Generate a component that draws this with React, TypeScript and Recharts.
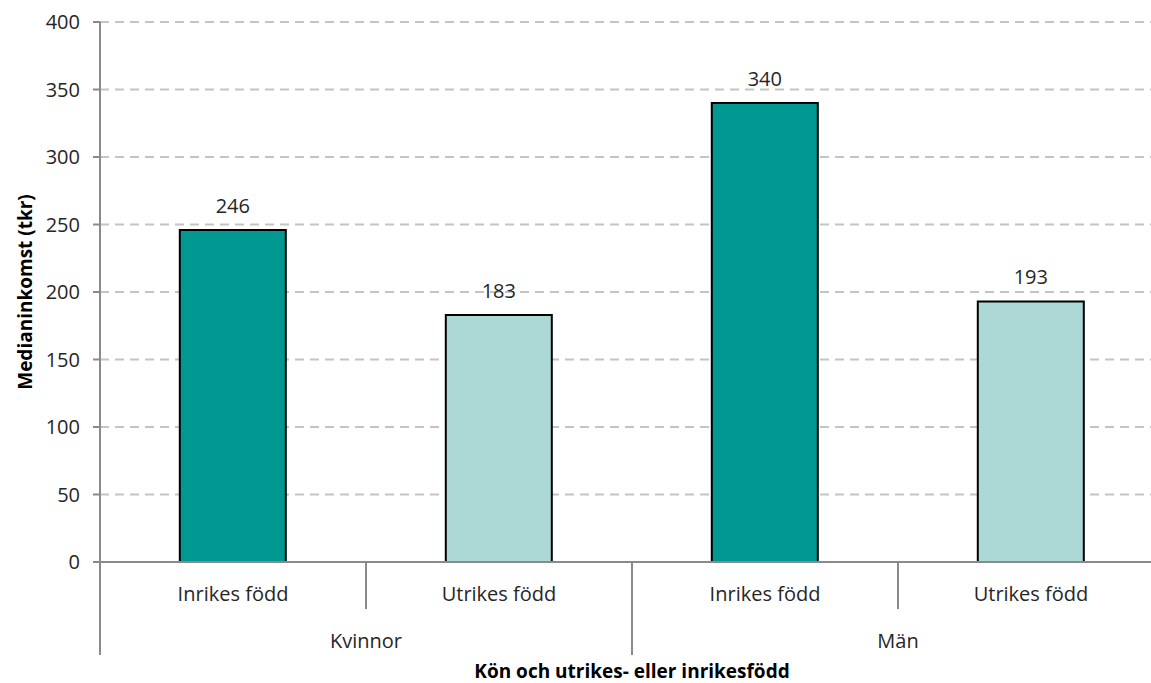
import { BarChart, Bar, XAxis, YAxis, CartesianGrid, Cell, LabelList } from "recharts";

// Kön / född – medianinkomst (tkr)
const categories = ["Inrikes född", "Utrikes född", "Inrikes född", "Utrikes född"];
const groups = ["Kvinnor", "Kvinnor", "Män", "Män"];
const values = [246, 183, 340, 193];
const yTicks = [0, 50, 100, 150, 200, 250, 300, 350, 400];

const FILLS: Record<string, string> = {
  "Inrikes född": "#009890",
  "Utrikes född": "#acd9d5",
};

const data = categories.map((c, i) => ({
  id: `${groups[i]}-${c}`,
  category: c,
  group: groups[i],
  value: values[i],
}));

const CHART_W = 1170;
const CHART_H = 683;
const MARGIN = { top: 22, right: 6, left: 0, bottom: 0 };
const Y_W = 100;
const X_H = 121;
const BAND = (CHART_W - MARGIN.left - MARGIN.right - Y_W) / data.length;

const TEXT = "#262626";
const AXIS = "#8a8a8a";
const FONT = "'Open Sans', sans-serif";

function CategoryTick(props: any) {
  const { x, y, payload } = props;
  const i: number = payload.index;
  const row = data[i];
  const half = BAND / 2;
  const first = i === 0 || data[i - 1].group !== row.group;
  const last = i === data.length - 1 || data[i + 1].group !== row.group;
  const size = data.filter((d) => d.group === row.group).length;
  return (
    <g>
      <text x={x} y={y + 39} textAnchor="middle" fill={TEXT} fontSize={20} fontFamily={FONT}>
        {row.category}
      </text>
      {i === 0 && <line x1={x - half} x2={x - half} y1={y} y2={y + 93} stroke={AXIS} strokeWidth={2} />}
      <line x1={x + half} x2={x + half} y1={y} y2={last ? y + 93 : y + 47} stroke={AXIS} strokeWidth={2} />
      {first && (
        <text x={x + ((size - 1) * BAND) / 2} y={y + 86} textAnchor="middle" fill={TEXT} fontSize={20} fontFamily={FONT}>
          {row.group}
        </text>
      )}
    </g>
  );
}

export default function App() {
  return (
    <div style={{ position: "absolute", left: 0, top: 0, width: 1151, height: 683, overflow: "hidden", background: "#fff" }}>
      <BarChart width={CHART_W} height={CHART_H} data={data} margin={MARGIN} barCategoryGap="30%" style={{ fontFamily: FONT }}>
        <CartesianGrid vertical={false} stroke="#c4c4c4" strokeWidth={2} strokeDasharray="9 6" />
        <XAxis
          dataKey="id"
          height={X_H}
          interval={0}
          tickLine={false}
          tickSize={0}
          tickMargin={0}
          axisLine={{ stroke: AXIS, strokeWidth: 2 }}
          tick={CategoryTick}
          label={{
            value: "Kön och utrikes- eller inrikesfödd",
            position: "insideBottom",
            offset: 5,
            fill: "#000",
            fontWeight: 700,
            fontSize: 19,
          }}
        />
        <YAxis
          width={Y_W}
          domain={[0, 400]}
          ticks={yTicks}
          interval={0}
          tickSize={7}
          tickMargin={13}
          tickLine={{ stroke: AXIS, strokeWidth: 2 }}
          axisLine={{ stroke: AXIS, strokeWidth: 2 }}
          tick={{ fill: TEXT, fontSize: 20, fontFamily: FONT }}
          label={{
            content: ({ viewBox }: any) => {
              const cy = viewBox.y + viewBox.height / 2;
              return (
                <text
                  x={32}
                  y={cy}
                  transform={`rotate(-90, 32, ${cy})`}
                  textAnchor="middle"
                  fill="#000"
                  fontSize={19}
                  fontWeight={700}
                  fontFamily={FONT}
                >
                  Medianinkomst (tkr)
                </text>
              );
            },
          }}
        />
        <Bar dataKey="value" stroke="#000" strokeWidth={2} isAnimationActive={false}>
          {data.map((d) => (
            <Cell key={d.id} fill={FILLS[d.category]} />
          ))}
          <LabelList dataKey="value" position="top" offset={17} fill={TEXT} fontSize={20} fontFamily={FONT} />
        </Bar>
      </BarChart>
    </div>
  );
}
